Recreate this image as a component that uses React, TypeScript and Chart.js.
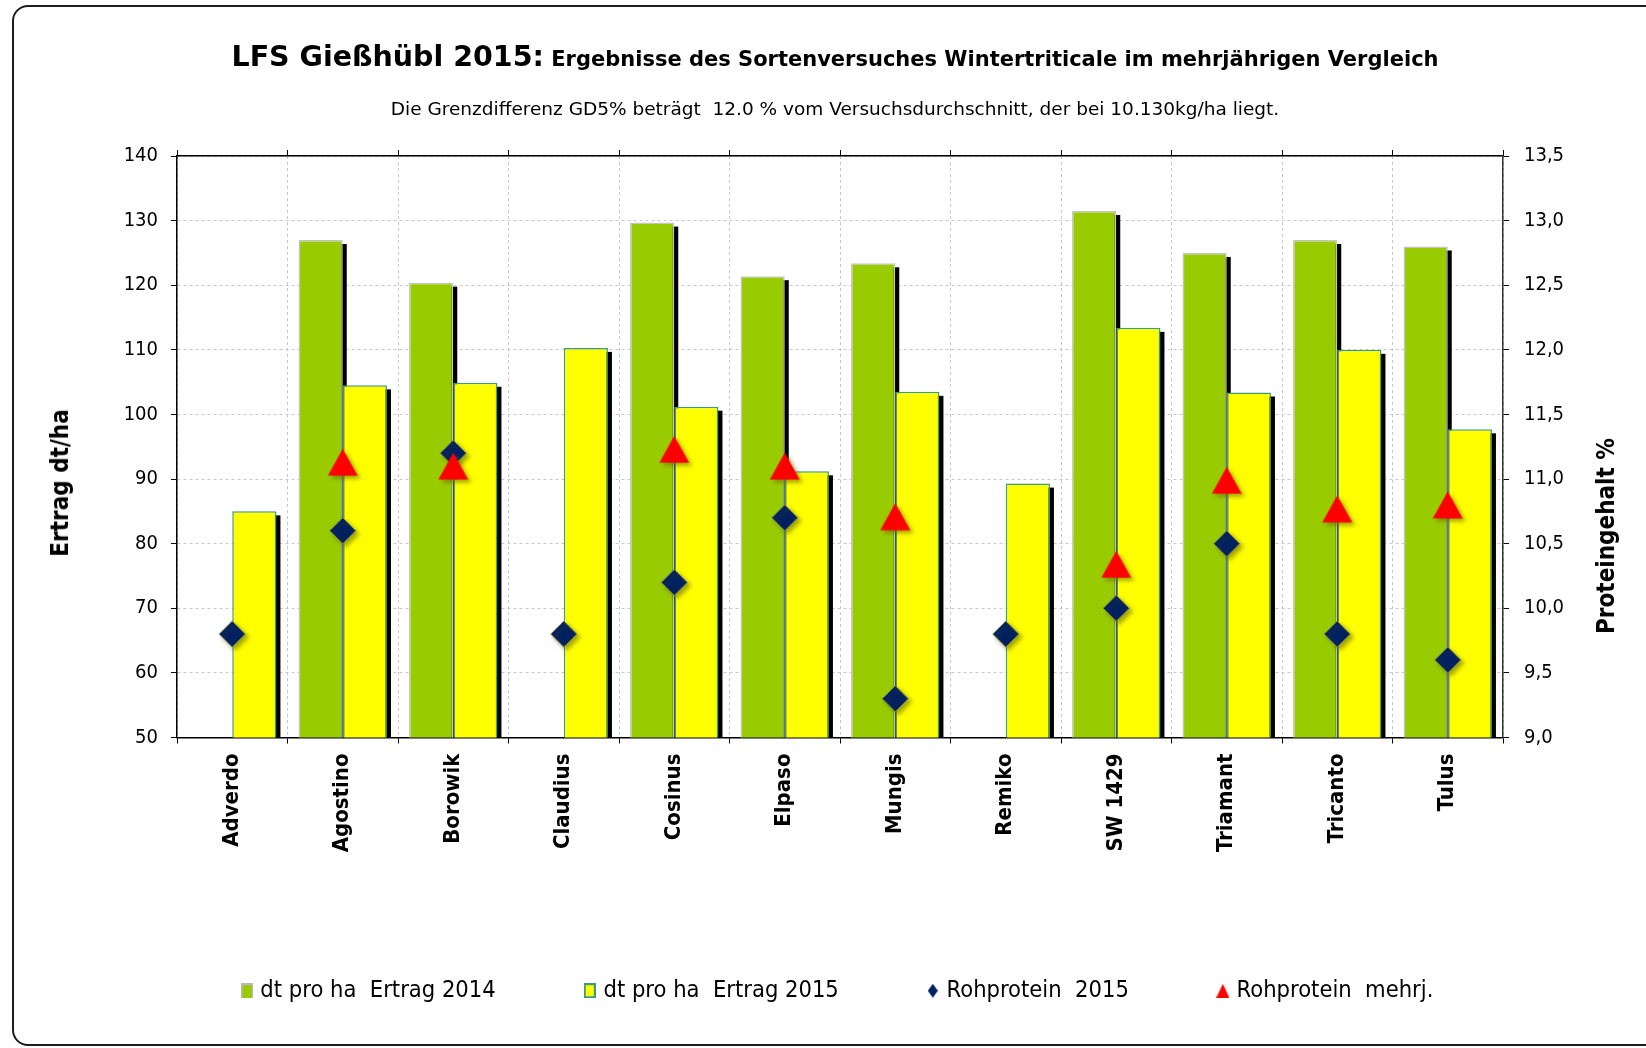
import React, { useEffect, useRef } from 'react';
import { Chart, registerables } from 'chart.js';

Chart.register(...registerables);

// ---------- data ----------
const categories = ['Adverdo', 'Agostino', 'Borowik', 'Claudius', 'Cosinus', 'Elpaso', 'Mungis', 'Remiko', 'SW 1429', 'Triamant', 'Tricanto', 'Tulus'];
const ertrag2014 = [null, 127.0, 120.4, null, 129.7, 121.4, 123.4, null, 131.5, 125.0, 127.0, 126.0];
const ertrag2015 = [85.0, 104.5, 104.9, 110.3, 101.2, 91.2, 103.5, 89.3, 113.4, 103.4, 110.0, 97.7];
const rohprotein2015 = [9.8, 10.6, 11.2, 9.8, 10.2, 10.7, 9.3, 9.8, 10.0, 10.5, 9.8, 9.6];
const rohproteinMehrj = [null, 11.13, 11.1, null, 11.23, 11.1, 10.71, null, 10.34, 10.99, 10.77, 10.8];
const seriesLabels = ['dt pro ha  Ertrag 2014', 'dt pro ha  Ertrag 2015', 'Rohprotein  2015', 'Rohprotein  mehrj.'];
const yieldAxis = { min: 50, max: 140, step: 10 };
const proteinAxis = { min: 9, max: 13.5, step: 0.5 };
const titleMain = 'LFS Gießhübl 2015:';
const titleSub = 'Ergebnisse des Sortenversuches Wintertriticale im mehrjährigen Vergleich';
const subtitle = 'Die Grenzdifferenz GD5% beträgt  12.0 % vom Versuchsdurchschnitt, der bei 10.130kg/ha liegt.';
const yTitle = 'Ertrag dt/ha';
const y2Title = 'Proteingehalt %';

const FONT = "'DejaVu Sans Condensed', 'DejaVu Sans', sans-serif";
const FONT_WIDE = "'DejaVu Sans', sans-serif";
const GREEN = '#99CC00';
const YELLOW = '#FFFF00';
const NAVY = '#002060';
const RED = '#FF0000';

function makeCanvas(w: number, h: number, draw: (g: CanvasRenderingContext2D) => void) {
  const c = document.createElement('canvas');
  c.width = w;
  c.height = h;
  const g = c.getContext('2d') as CanvasRenderingContext2D;
  draw(g);
  return c;
}

const triangleImg = makeCanvas(31, 28, (g) => {
  g.fillStyle = RED;
  g.beginPath();
  g.moveTo(0.5, 27.5);
  g.lineTo(15.5, 0.5);
  g.lineTo(30.5, 27.5);
  g.closePath();
  g.fill();
});

const legendImgs = [
  makeCanvas(12, 15, (g) => {
    g.fillStyle = '#b8b8b8';
    g.fillRect(0, 0, 12, 15);
    g.fillStyle = GREEN;
    g.fillRect(2, 2, 9, 13);
  }),
  makeCanvas(12, 15, (g) => {
    g.fillStyle = '#3e9a7e';
    g.fillRect(0, 0, 12, 15);
    g.fillStyle = YELLOW;
    g.fillRect(2, 2, 8, 11);
  }),
  makeCanvas(10, 14, (g) => {
    g.fillStyle = NAVY;
    g.beginPath();
    g.moveTo(5, 0);
    g.lineTo(10, 7);
    g.lineTo(5, 14);
    g.lineTo(0, 7);
    g.closePath();
    g.fill();
  }),
  makeCanvas(13, 14, (g) => {
    g.fillStyle = RED;
    g.beginPath();
    g.moveTo(0, 14);
    g.lineTo(6.5, 0);
    g.lineTo(13, 14);
    g.closePath();
    g.fill();
  }),
];

const shadowPlugin = {
  id: 'markShadows',
  beforeDatasetsDraw(chart: any) {
    const ctx = chart.ctx as CanvasRenderingContext2D;
    const a = chart.chartArea;
    ctx.save();
    ctx.beginPath();
    ctx.rect(a.left, a.top, a.right - a.left, a.bottom - a.top);
    ctx.clip();
    ctx.fillStyle = '#000';
    chart.data.datasets.forEach((ds: any, di: number) => {
      const meta = chart.getDatasetMeta(di);
      if (meta.type !== 'bar') return;
      meta.data.forEach((el: any, i: number) => {
        if (ds.data[i] == null) return;
        const p = el.getProps(['x', 'y', 'base', 'width'], true);
        ctx.fillRect(p.x - p.width / 2 + 4, p.y + 4, p.width, p.base - p.y);
      });
    });
    ctx.restore();
  },
  beforeDatasetDraw(chart: any, args: any) {
    if (args.meta.type === 'bar') return;
    const ctx = chart.ctx as CanvasRenderingContext2D;
    ctx.save();
    ctx.shadowColor = 'rgba(105,105,0,0.6)';
    ctx.shadowBlur = 4;
    ctx.shadowOffsetX = 3;
    ctx.shadowOffsetY = 3;
  },
  afterDatasetDraw(chart: any, args: any) {
    if (args.meta.type !== 'bar') chart.ctx.restore();
  },
};

export default function App() {
  const ref = useRef<HTMLCanvasElement | null>(null);

  useEffect(() => {
    if (!ref.current) return;
    Chart.defaults.font.family = FONT;
    Chart.defaults.color = '#000';
    const tickFont = { family: FONT, size: 20 };
    const chart = new Chart(ref.current, {
      type: 'bar',
      data: {
        labels: categories,
        datasets: [
          {
            type: 'bar',
            label: seriesLabels[0],
            data: ertrag2014,
            backgroundColor: GREEN,
            borderColor: '#c4c4c4',
            borderWidth: 1.5,
            yAxisID: 'y',
            order: 3,
            categoryPercentage: 0.8,
            barPercentage: 1.0,
          },
          {
            type: 'bar',
            label: seriesLabels[1],
            data: ertrag2015,
            backgroundColor: YELLOW,
            borderColor: '#3e9a7e',
            borderWidth: 1.5,
            yAxisID: 'y',
            order: 3,
            categoryPercentage: 0.8,
            barPercentage: 1.0,
          },
          {
            type: 'line',
            label: seriesLabels[2],
            data: rohprotein2015,
            yAxisID: 'y2',
            showLine: false,
            pointStyle: 'rectRot',
            pointRadius: 13,
            pointBackgroundColor: NAVY,
            pointBorderColor: '#7d8450',
            pointBorderWidth: 1,
            order: 2,
          },
          {
            type: 'line',
            label: seriesLabels[3],
            data: rohproteinMehrj,
            yAxisID: 'y2',
            showLine: false,
            pointStyle: triangleImg,
            pointRadius: 15,
            pointBackgroundColor: RED,
            pointBorderWidth: 0,
            order: 1,
          },
        ] as any,
      },
      options: {
        responsive: false,
        animation: false,
        events: [],
        layout: { padding: { left: 32, top: 156, right: 0, bottom: 35.5 } },
        plugins: {
          title: { display: false },
          tooltip: { enabled: false },
          legend: {
            position: 'bottom',
            labels: {
              usePointStyle: true,
              pointStyleWidth: 4,
              padding: 92,
              color: '#000',
              font: { family: FONT, size: 23.5 },
              generateLabels: (c: any) =>
                c.data.datasets.map((ds: any, i: number) => ({
                  text: ds.label,
                  datasetIndex: i,
                  pointStyle: legendImgs[i],
                  hidden: false,
                  lineWidth: 0,
                  fillStyle: 'transparent',
                  strokeStyle: 'transparent',
                  fontColor: '#000',
                })),
            },
          },
        },
        scales: {
          x: {
            position: 'bottom',
            offset: true,
            grid: { offset: true, color: '#c8c8c8', tickColor: '#000', tickLength: 6, lineWidth: 1 },
            border: { color: '#000', width: 1.5, dash: [3, 3] },
            ticks: {
              autoSkip: false,
              minRotation: 90,
              maxRotation: 90,
              padding: 10,
              color: '#000',
              font: { family: FONT, size: 22, weight: 'bold' },
            },
            afterFit: (s: any) => {
              s.height = 149.5;
            },
          },
          x2: {
            type: 'category',
            position: 'top',
            offset: true,
            grid: { offset: true, drawOnChartArea: false, tickColor: '#000', tickLength: 6 },
            border: { color: '#000', width: 1.5 },
            ticks: { display: false },
            afterFit: (s: any) => {
              s.height = 0;
            },
          },
          y: {
            position: 'left',
            min: yieldAxis.min,
            max: yieldAxis.max,
            ticks: { stepSize: yieldAxis.step, padding: 13, color: '#000', font: tickFont },
            grid: { color: '#c8c8c8', tickColor: '#000', tickLength: 6 },
            border: { color: '#000', width: 1.5, dash: [3, 3] },
            afterFit: (s: any) => {
              s.width = 145;
            },
          },
          y2: {
            position: 'right',
            min: proteinAxis.min,
            max: proteinAxis.max,
            ticks: {
              stepSize: proteinAxis.step,
              padding: 15,
              color: '#000',
              font: tickFont,
              callback: (v: any) => Number(v).toFixed(1).replace('.', ','),
            },
            grid: { drawOnChartArea: false, tickColor: '#000', tickLength: 6 },
            border: { color: '#333', width: 1.5 },
            afterFit: (s: any) => {
              s.width = 143;
            },
          },
        } as any,
      },
      plugins: [shadowPlugin],
    });
    return () => chart.destroy();
  }, []);

  const rot = (cx: number, cy: number): React.CSSProperties => ({
    position: 'absolute',
    left: cx,
    top: cy,
    transform: 'translate(-50%, -50%) rotate(-90deg)',
    whiteSpace: 'nowrap',
    fontFamily: FONT,
    fontWeight: 'bold',
    fontSize: 24,
    color: '#000',
  });

  return (
    <div
      style={{
        position: 'fixed',
        left: 0,
        top: 0,
        width: 1646,
        height: 1048,
        overflow: 'hidden',
        background: '#fff',
      }}
    >
      <div
        style={{
          position: 'absolute',
          left: 12,
          top: 5,
          width: 1700,
          height: 1041,
          border: '2px solid #1e1e1e',
          borderRadius: 16,
          boxSizing: 'border-box',
        }}
      />
      <canvas
        ref={ref}
        width={1646}
        height={1048}
        style={{ position: 'absolute', left: 0, top: 0, width: 1646, height: 1048 }}
      />
      <div
        style={{
          position: 'absolute',
          left: 0,
          top: 39,
          width: 1670,
          lineHeight: '36px',
          textAlign: 'center',
          whiteSpace: 'pre',
          fontFamily: FONT_WIDE,
          fontWeight: 'bold',
          color: '#000',
        }}
      >
        <span style={{ fontSize: 28.5 }}>{titleMain}</span>
        <span style={{ fontSize: 21 }}>{' ' + titleSub}</span>
      </div>
      <div
        style={{
          position: 'absolute',
          left: 0,
          top: 97,
          width: 1670,
          lineHeight: '24px',
          textAlign: 'center',
          whiteSpace: 'pre',
          fontFamily: FONT_WIDE,
          fontSize: 18.5,
          color: '#000',
        }}
      >
        {subtitle}
      </div>
      <div style={rot(60, 483)}>{yTitle}</div>
      <div style={rot(1606, 536)}>{y2Title}</div>
    </div>
  );
}
